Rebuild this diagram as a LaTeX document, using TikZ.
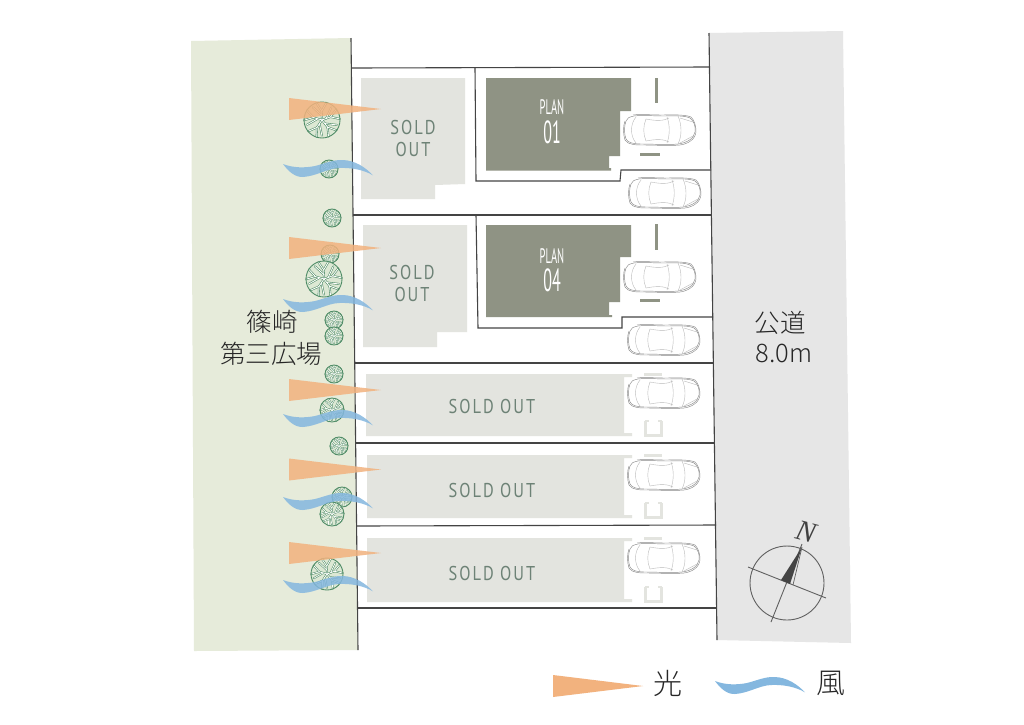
\documentclass[tikz,border=0pt]{standalone}
\usepackage{fontspec}
\setmainfont{Liberation Sans}
\newfontfamily\cjk{Noto Sans CJK JP Light}
\newfontfamily\soldfont[LetterSpace=10,FakeStretch=.82]{PT Sans}
\newfontfamily\planfont{PT Sans}
\newfontfamily\nfont[Ligatures=TeX]{Liberation Serif}
\definecolor{parkgreen}{HTML}{E6EBDA}
\definecolor{roadgray}{HTML}{E6E6E6}
\definecolor{soldgray}{HTML}{E3E4DF}
\definecolor{plangray}{HTML}{8F9384}
\definecolor{soldtext}{HTML}{6D8276}
\definecolor{lineblack}{HTML}{444444}
\definecolor{lightorange}{HTML}{F2B27E}
\definecolor{windblue}{HTML}{84B7DF}
\definecolor{treegreen}{HTML}{4F8C66}
\definecolor{treepale}{HTML}{DCE8D4}
\definecolor{cargray}{HTML}{8A8A8A}
\tikzset{
  lotline/.style={draw=lineblack,line width=1.1pt},
  soldbox/.style={fill=soldgray},
  planbox/.style={fill=plangray},
  mark line/.style={draw=plangray,line width=3pt},
  bracket line/.style={draw=soldgray,line width=3pt},
  sun/.style={fill=lightorange,opacity=.85},
  windshape/.style={fill=windblue,opacity=.85},
  soldtxt/.style={text=soldtext,font=\soldfont\fontsize{20}{22}\selectfont,align=center,inner sep=0pt},
  plantxt/.style={text=white,inner sep=0pt,transform shape,align=center},
  cjktxt/.style={text=black!85,font=\cjk\fontsize{25.5}{25.5}\selectfont,inner sep=0pt},
}
% tree: x, y, radius
\newcommand{\treeat}[3]{%
  \begin{scope}[shift={(#1,#2)},x=#3pt,y=#3pt]
    \fill[treepale] (0,0) circle[radius=1];
    \foreach \c/\w in {treegreen/1.0,white/0.42}{
    \begin{scope}[draw=\c,line width=\w*(#3*0.07+0.7)*1pt,line cap=round]
    \foreach \a in {20,92,164,236,308}{
      \begin{scope}[rotate=\a]
        \draw (0,0) -- (.5,0) -- (.95,.28);
        \draw (.5,0) -- (.95,-.28);
        \draw (.25,0) -- (.72,.48);
      \end{scope}}
    \end{scope}}
    \draw[treegreen,line width=.9pt] (0,0) circle[radius=1];
  \end{scope}}
% wind: left tip x, y
\newcommand{\windpath}{(0,0) .. controls (10,4) and (22,4) .. (32,2)
   .. controls (42,-0.5) and (50,-4.5) .. (60,-4)
   .. controls (72,-3.5) and (82,3) .. (90,11.3)
   .. controls (80,5.5) and (68,3.5) .. (56,4)
   .. controls (44,4.5) and (34,12) .. (20,13)
   .. controls (12,13.5) and (5,7) .. (0,0) -- cycle}
\newcommand{\windat}[2]{\fill[windshape,shift={(#1,#2)}] \windpath;}
% light: left x, y centre
\newcommand{\sunat}[2]{%
  \fill[sun,shift={(#1,#2)}] (0,-11) -- (92,0) -- (0,11) -- cycle;}
% car, centre x y
\newcommand{\carat}[2]{%
  \begin{scope}[shift={(#1,#2)},draw=cargray,line width=.45pt]
    \draw (-34,-9) .. controls (-36,-4) and (-36,4) .. (-34,9)
       .. controls (-32,13) and (-26,14) .. (-18,14)
       .. controls (-8,14) and (8,15) .. (18,14)
       .. controls (26,13) and (34,9) .. (35,2)
       .. controls (36,-3) and (34,-9) .. (30,-12)
       .. controls (24,-15) and (10,-14) .. (4,-14)
       .. controls (-6,-14) and (-18,-15) .. (-26,-14)
       .. controls (-31,-13) and (-33,-12) .. (-34,-9) -- cycle;
    \draw (-35,-9) .. controls (-37,-4) and (-37,4) .. (-35,10)
       .. controls (-32,15) and (-24,15) .. (-16,15)
       .. controls (-5,15) and (8,16) .. (20,15)
       .. controls (28,14) and (36,9) .. (36,1)
       .. controls (36,-5) and (34,-10) .. (31,-13)
       .. controls (24,-16) and (8,-15) .. (2,-15)
       .. controls (-8,-15) and (-20,-16) .. (-27,-15);
    \begin{scope}[draw=cargray!60,line width=.4pt]
    \draw (-24,-13) .. controls (-30,-6) and (-30,6) .. (-24,13);
    \draw (-14,-11) .. controls (-17,-4) and (-17,4) .. (-14,11);
    \draw (-14,-11) .. controls (-4,-9) and (4,-9) .. (9,-12);
    \draw (-14,11) .. controls (-4,9) and (4,9) .. (9,12);
    \draw (7,-13) .. controls (10,-5) and (10,5) .. (7,13);
    \draw (18,-14) .. controls (22,-5) and (22,6) .. (18,14);
    \draw (20,-12) -- (33,-8);
    \draw (20,13) -- (33,6);
    \end{scope}
  \end{scope}}
% long sold lot
\newcommand{\longlot}[5]{% x, top, bottom, name, text y
  \fill[soldbox] (#1,#2) -- (632,#2) -- (632,#2+3) -- (624,#2+3) -- (624,#3-3) -- (632,#3-3) -- (632,#3) -- (#1,#3) -- cycle;
  \draw[bracket line] (644,#2) -- (662,#2);
  \draw[bracket line] (645.5,#3-15) -- (645.5,#3-1) -- (661,#3-1) -- (661,#3-15);
  \draw[bracket line,line width=2pt] (645,#3-15) -- (649,#3-15) (658,#3-15) -- (662,#3-15);
  \node[soldtxt,font=\soldfont\fontsize{20}{20}\selectfont] (#4) at (492,#5) {SOLD OUT};}
\begin{document}
\begin{tikzpicture}[x=1pt,y=-1pt]
\useasboundingbox (0,0) rectangle (1024,724);
\fill[white] (0,0) rectangle (1024,724);
% park and road
\fill[parkgreen] (191,41) -- (351,38) -- (358,650) -- (194,651) -- cycle;
\fill[roadgray] (709,33) -- (843,31) -- (851,643) -- (717,640) -- cycle;
% buildings
\fill[soldbox] (361,78) -- (465,78) -- (465,184) -- (435,185) -- (435,199) -- (361,199) -- cycle;
\fill[soldbox] (363,225) -- (467,225) -- (467,332) -- (437,332) -- (437,347) -- (363,347) -- cycle;
\fill[planbox] (486,78) -- (631,78) -- (631,111) -- (620,111) -- (620,156) -- (609,156) -- (609,168) -- (611,168) -- (611,170.5) -- (486,170.5) -- cycle;
\fill[planbox] (486,225) -- (631,225) -- (631,257) -- (620,257) -- (620,302) -- (609,302) -- (609,315) -- (612,315) -- (612,317) -- (486,317) -- cycle;
\longlot{366}{374}{436}{sa}{406}
\longlot{367}{455}{518}{sb}{490}
\longlot{367}{538}{602}{sc}{573}
% parking marks
\draw[mark line] (656,78) -- (656,103);
\draw[mark line] (640,154) -- (660,154);
\draw[mark line] (656,224) -- (656,250);
\draw[mark line] (640,300) -- (660,300);
% lot lines
\draw[lotline] (351,38) -- (358,650);
\draw[lotline] (709,33) -- (717,640);
\draw[lotline] (352,68) -- (709,67);
\draw[lotline] (353,215) -- (712,215);
\draw[lotline] (355,363) -- (714,363);
\draw[lotline] (356,443) -- (715,443);
\draw[lotline] (357,526) -- (716,525);
\draw[lotline] (358,608) -- (717,608);
\draw[lotline] (475,68) -- (476,181) -- (620,181) -- (621,170) -- (711,170);
\draw[lotline] (476,215) -- (478,328) -- (622,328) -- (622,317) -- (713,317);
% cars
\carat{660}{130}\carat{665}{193}\carat{660}{277}\carat{664}{340}
\carat{664}{393}\carat{664}{475}\carat{664}{558}
% trees
\treeat{322}{120}{18}\treeat{329}{169}{9}\treeat{332}{218}{9}\treeat{330}{254}{9}
\treeat{324}{279}{18}\treeat{334}{320}{9}\treeat{334}{336}{9}\treeat{334}{374}{9}
\treeat{332}{410}{12}\treeat{339}{446}{9}\treeat{342}{497}{10}\treeat{332}{514}{12}\treeat{327}{574}{16}
% light and wind
\sunat{289}{109}\sunat{289}{248}\sunat{289}{390}\sunat{289}{469.5}\sunat{289}{553}
\windat{283}{164}\windat{283}{299}\windat{283}{414}\windat{283}{497}\windat{283}{580}
% texts
\node[soldtxt] (s1) at (413,138) {SOLD\\[0pt]OUT};
\node[soldtxt] (s2) at (412,283) {SOLD\\[0pt]OUT};
\begin{scope}[xscale=.5]
\node[plantxt,font=\planfont\fontsize{21}{21}\selectfont] (p1a) at (552/.5,107) {PLAN};
\node[plantxt,font=\planfont\fontsize{32}{32}\selectfont] (p1b) at (552/.5,132) {01};
\node[plantxt,font=\planfont\fontsize{21}{21}\selectfont] (p4a) at (552/.5,256) {PLAN};
\node[plantxt,font=\planfont\fontsize{32}{32}\selectfont] (p4b) at (552/.5,280) {04};
\end{scope}
\node[cjktxt] (t1) at (272,322) {篠崎};
\node[cjktxt] (t2) at (271,354) {第三広場};
\node[cjktxt] (t3) at (780,323) {公道};
\node[cjktxt] (t4) at (784,353) {8.0m};
% compass
\draw[lineblack!85,line width=.9pt] (787,583) circle[radius=37];
\draw[lineblack!85,line width=.9pt] (748,567) -- (826,598);
\draw[lineblack!85,line width=.9pt] (802,544) -- (771,622);
\fill[lineblack] (802,547) -- (781,580) -- (790,584) -- cycle;
\draw[lineblack!85,line width=.7pt] (802,547) -- (793,585);
\node[inner sep=0pt,text=black!75,rotate=-15,font=\nfont\itshape\fontsize{29}{29}\selectfont] (north) at (806,532) {N};
% legend
\fill[lightorange] (553,675) -- (643,686) -- (553,697) -- cycle;
\fill[windblue,shift={(715,681)}] \windpath;
\node[cjktxt,font=\cjk\fontsize{29}{29}\selectfont] (l1) at (668,683) {光};
\node[cjktxt,font=\cjk\fontsize{29}{29}\selectfont] (l2) at (831,683) {風};
\end{tikzpicture}
\end{document}
